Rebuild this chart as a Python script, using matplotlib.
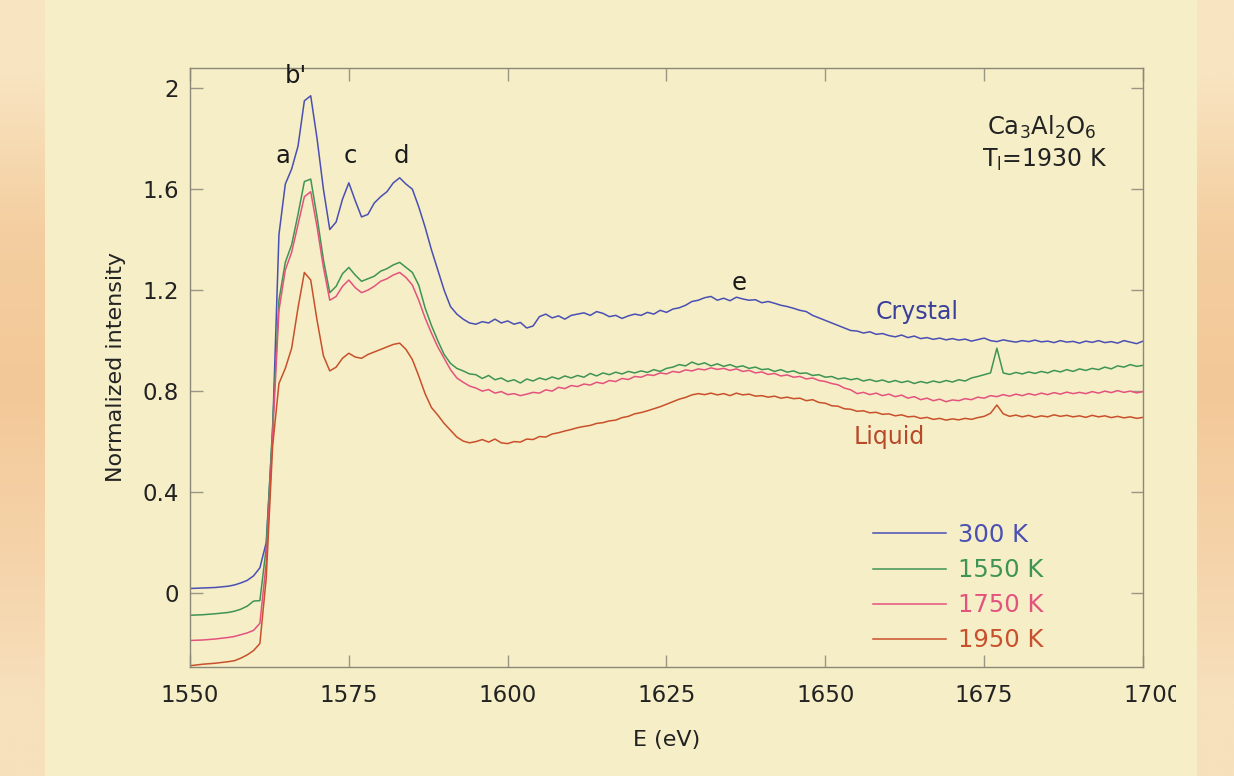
import numpy as np
import matplotlib.pyplot as plt
from matplotlib.transforms import Bbox

# energy grid (eV): coarse in the pre-edge, 1 eV steps after
energy = np.concatenate([[1550, 1552, 1554, 1556, 1557, 1558, 1559, 1560],
                         np.arange(1561, 1701)])

# normalized intensity
i_300 = [0.018, 0.020, 0.022, 0.027, 0.032, 0.040, 0.050, 0.068,
         0.10, 0.20, 0.64, 1.42, 1.62, 1.68, 1.77, 1.95, 1.97, 1.80,
         1.60, 1.44, 1.47, 1.56, 1.625, 1.555, 1.49, 1.50, 1.545, 1.57,
         1.59, 1.625, 1.645, 1.62, 1.60, 1.53, 1.45, 1.36, 1.28, 1.20,
         1.135, 1.105, 1.085, 1.07, 1.065, 1.075, 1.07, 1.085, 1.07, 1.078,
         1.065, 1.072, 1.05, 1.058, 1.095, 1.105, 1.09, 1.098, 1.085, 1.10,
         1.105, 1.11, 1.10, 1.115, 1.108, 1.095, 1.10, 1.088, 1.098, 1.105,
         1.10, 1.112, 1.105, 1.12, 1.112, 1.125, 1.13, 1.14, 1.155, 1.16,
         1.17, 1.175, 1.16, 1.168, 1.158, 1.172, 1.165, 1.16, 1.162, 1.15,
         1.155, 1.148, 1.14, 1.135, 1.128, 1.12, 1.115, 1.10, 1.09, 1.08,
         1.07, 1.06, 1.05, 1.04, 1.038, 1.03, 1.035, 1.025, 1.028, 1.02,
         1.015, 1.022, 1.012, 1.018, 1.008, 1.012, 1.005, 1.01, 1.003, 1.008,
         1.002, 1.006, 0.998, 1.004, 1.01, 1.0, 0.996, 1.003, 0.998, 0.994,
         1.0, 0.996, 1.002, 0.995, 0.998, 0.992, 1.0, 0.994, 0.997, 0.99,
         0.998, 0.993, 1.0, 0.992, 0.996, 0.99, 1.0, 0.994, 0.988, 0.998]

i_1550 = [-0.088, -0.086, -0.082, -0.077, -0.072, -0.064, -0.052, -0.032,
          -0.03, 0.18, 0.66, 1.16, 1.31, 1.38, 1.50, 1.63, 1.64, 1.49,
          1.32, 1.19, 1.215, 1.265, 1.29, 1.26, 1.235, 1.245, 1.255, 1.275,
          1.285, 1.30, 1.31, 1.29, 1.27, 1.22, 1.13, 1.06, 1.00, 0.945,
          0.91, 0.89, 0.88, 0.868, 0.865, 0.85, 0.862, 0.845, 0.852, 0.838,
          0.845, 0.832, 0.848, 0.84, 0.852, 0.845, 0.856, 0.848, 0.86, 0.852,
          0.862, 0.855, 0.87, 0.86, 0.872, 0.865, 0.875, 0.868, 0.878, 0.872,
          0.88, 0.874, 0.885, 0.878, 0.89, 0.895, 0.905, 0.9, 0.915, 0.905,
          0.912, 0.9, 0.908, 0.898, 0.905, 0.895, 0.9, 0.89, 0.895, 0.885,
          0.888, 0.878, 0.885, 0.875, 0.88, 0.87, 0.872, 0.862, 0.865, 0.855,
          0.858, 0.848, 0.852, 0.845, 0.85, 0.84, 0.846, 0.838, 0.844, 0.835,
          0.842, 0.834, 0.84, 0.83, 0.838, 0.832, 0.84, 0.834, 0.842, 0.836,
          0.845, 0.84, 0.852, 0.858, 0.865, 0.872, 0.97, 0.872, 0.866, 0.874,
          0.868, 0.876, 0.87, 0.878, 0.872, 0.882, 0.876, 0.885, 0.878, 0.888,
          0.882, 0.89, 0.885, 0.895, 0.888, 0.9, 0.895, 0.905, 0.898, 0.902]

i_1750 = [-0.188, -0.186, -0.182, -0.176, -0.172, -0.165, -0.158, -0.148,
          -0.12, 0.12, 0.62, 1.12, 1.28, 1.35, 1.46, 1.57, 1.59, 1.45,
          1.29, 1.16, 1.175, 1.215, 1.24, 1.21, 1.19, 1.20, 1.215, 1.235,
          1.245, 1.26, 1.27, 1.25, 1.22, 1.16, 1.09, 1.03, 0.975, 0.93,
          0.885, 0.852, 0.835, 0.82, 0.812, 0.8, 0.806, 0.792, 0.798, 0.786,
          0.79, 0.782, 0.788, 0.795, 0.792, 0.805, 0.8, 0.815, 0.81, 0.822,
          0.818, 0.828, 0.824, 0.835, 0.83, 0.842, 0.838, 0.85, 0.846, 0.858,
          0.855, 0.865, 0.862, 0.872, 0.868, 0.878, 0.874, 0.884, 0.88, 0.888,
          0.884, 0.892, 0.886, 0.89, 0.882, 0.888, 0.878, 0.882, 0.872, 0.876,
          0.866, 0.87, 0.86, 0.864, 0.855, 0.858, 0.848, 0.852, 0.842, 0.838,
          0.83, 0.825, 0.812, 0.805, 0.79, 0.795, 0.786, 0.792, 0.782, 0.788,
          0.778, 0.784, 0.772, 0.778, 0.766, 0.772, 0.762, 0.768, 0.758, 0.765,
          0.762, 0.77, 0.766, 0.776, 0.772, 0.782, 0.778, 0.786, 0.78, 0.788,
          0.782, 0.79, 0.784, 0.792, 0.786, 0.794, 0.788, 0.796, 0.79, 0.795,
          0.79, 0.798, 0.792, 0.8, 0.794, 0.802, 0.795, 0.8, 0.793, 0.798]

i_1950 = [-0.288, -0.282, -0.278, -0.272, -0.268, -0.258, -0.245, -0.228,
          -0.2, 0.06, 0.58, 0.83, 0.89, 0.97, 1.13, 1.27, 1.24, 1.08,
          0.94, 0.88, 0.895, 0.93, 0.95, 0.935, 0.93, 0.945, 0.955, 0.965,
          0.975, 0.985, 0.99, 0.965, 0.925, 0.86, 0.79, 0.735, 0.705, 0.672,
          0.645, 0.618, 0.602, 0.595, 0.6, 0.608, 0.598, 0.61, 0.595, 0.592,
          0.6, 0.598, 0.61, 0.608, 0.62, 0.618, 0.63, 0.635, 0.642, 0.648,
          0.655, 0.66, 0.664, 0.672, 0.675, 0.682, 0.685, 0.695, 0.7, 0.71,
          0.715, 0.722, 0.73, 0.738, 0.748, 0.758, 0.768, 0.775, 0.785, 0.79,
          0.786, 0.792, 0.785, 0.79, 0.782, 0.792, 0.785, 0.788, 0.78, 0.782,
          0.776, 0.78, 0.772, 0.776, 0.77, 0.772, 0.762, 0.766, 0.755, 0.752,
          0.742, 0.74, 0.73, 0.728, 0.72, 0.722, 0.714, 0.716, 0.708, 0.71,
          0.702, 0.706, 0.698, 0.7, 0.692, 0.696, 0.688, 0.692, 0.685, 0.69,
          0.686, 0.692, 0.688, 0.695, 0.7, 0.712, 0.745, 0.71, 0.7, 0.705,
          0.698, 0.704, 0.696, 0.702, 0.698, 0.706, 0.7, 0.704, 0.698, 0.702,
          0.696, 0.704, 0.698, 0.702, 0.695, 0.7, 0.694, 0.698, 0.692, 0.696]

labels = ['300 K', '1550 K', '1750 K', '1950 K']
colors = ['#4a4fb4', '#3f9455', '#e4527e', '#c9502c']
xticks = [1550, 1575, 1600, 1625, 1650, 1675, 1700]
yticks = [0, 0.4, 0.8, 1.2, 1.6, 2]

panel = '#f5eec6'

fig = plt.figure(figsize=(12.34, 7.76), dpi=100, facecolor=panel)

# orange side strips of the page
for x0, x1 in [(0, 45 / 1234), (1197 / 1234, 1)]:
    bg = fig.add_axes([x0, 0, x1 - x0, 1], zorder=5)
    grad = np.array([[[248, 228, 192]], [[244, 206, 160]], [[243, 200, 152]],
                     [[245, 210, 168]], [[247, 224, 188]]]) / 255.0
    bg.imshow(grad, aspect='auto', interpolation='bilinear', extent=[0, 1, 0, 1])
    bg.axis('off')

ax = fig.add_axes([190 / 1234, 109 / 776, 953 / 1234, 599 / 776])
ax.set_facecolor(panel)

for y, lab, c in zip([i_300, i_1550, i_1750, i_1950], labels, colors):
    ax.plot(energy, y, color=c, lw=1.1, label=lab)

ax.set_xlim(1550, 1700)
ax.set_ylim(-0.293, 2.08)
ax.set_xticks(xticks)
ax.set_xticklabels([str(t) for t in xticks[:-1]] + [''])
ax.set_yticks(yticks)
ax.set_yticklabels(['0', '0.4', '0.8', '1.2', '1.6', '2'])

for s in ax.spines.values():
    s.set_color('#8c8878')
    s.set_linewidth(1.0)
ax.tick_params(direction='in', length=9, width=1.0, color='#9a9686',
               top=True, right=True, labelsize=16.5, labelcolor='#222222')
ax.tick_params(axis='x', pad=12)
ax.tick_params(axis='y', pad=8)

# last x label is cut off by the page edge in the original
t = ax.annotate('1700', xy=(1700, 0), xycoords=('data', 'axes fraction'),
                xytext=(7, -12), textcoords='offset points', ha='center', va='top',
                fontsize=16.5, color='#222222', annotation_clip=False)
t.set_clip_box(Bbox.from_extents(0, 0, 1176, 776))
t.set_clip_on(True)

ax.set_xlabel('E (eV)', fontsize=16, color='#222222', labelpad=17)
ax.set_ylabel('Normalized intensity', fontsize=16, color='#222222', labelpad=12)

# peak labels
for s, x, y in [('a', 1564.6, 1.73), ("b'", 1566.7, 2.05), ('c', 1575.2, 1.73),
                ('d', 1583.2, 1.73), ('e', 1636.4, 1.23)]:
    ax.text(x, y, s, fontsize=17.5, ha='center', va='center', color='#1a1a1a')

ax.text(1664.4, 1.113, 'Crystal', fontsize=17, ha='center', va='center', color='#3a3f9c')
ax.text(1660.0, 0.618, 'Liquid', fontsize=17, ha='center', va='center', color='#b84a2a')

ax.text(1684, 1.845, r'Ca$_3$Al$_2$O$_6$', fontsize=17.5, ha='center', va='center', color='#222222')
ax.text(1684.5, 1.715, r'T$_\mathregular{l}$=1930 K', fontsize=17, ha='center', va='center', color='#222222')

ax.legend(loc='lower right', bbox_to_anchor=(0.911, 0.0), frameon=False, fontsize=17.5,
          labelcolor='linecolor', handlelength=3.0, handletextpad=0.5,
          labelspacing=0.46, borderaxespad=0.2)

fig.savefig('out.png', dpi=100, facecolor=fig.get_facecolor())
